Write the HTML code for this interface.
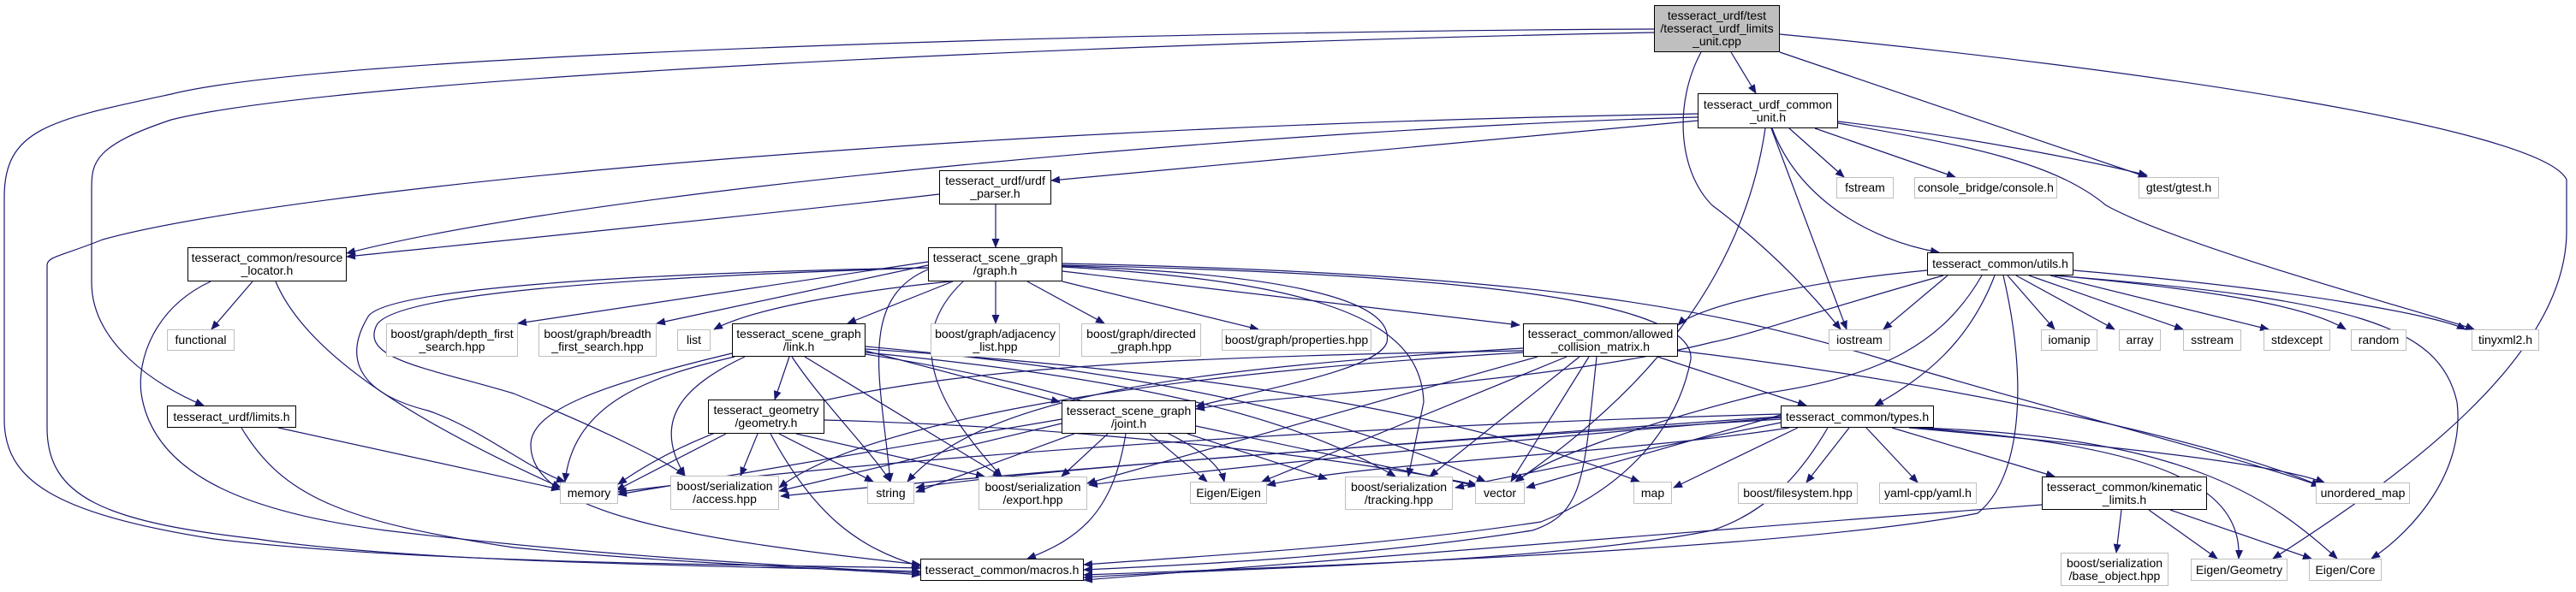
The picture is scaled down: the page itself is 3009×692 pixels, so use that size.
<!DOCTYPE html>
<html><head><meta charset="utf-8"><style>
html,body{margin:0;padding:0;background:#fff;}
#c{position:relative;width:3009px;height:692px;overflow:hidden;background:#fff;}
.n{position:absolute;box-sizing:border-box;display:flex;align-items:center;justify-content:center;text-align:center;font-family:"Liberation Sans",sans-serif;font-size:14px;line-height:15px;color:#000;background:#fff;border:1px solid #bfbfbf;white-space:nowrap;}
.b{border:1.5px solid #000;}
.g{background:#bfbfbf;border:1.5px solid #000;}
svg{position:absolute;left:0;top:0;}
path.e{fill:none;stroke:#191970;stroke-width:1.2;marker-end:url(#a);}
</style></head><body><div id="c">
<svg width="3009" height="692" viewBox="0 0 3009 692">
<defs><marker id="a" markerWidth="11" markerHeight="9" refX="10" refY="4.5" orient="auto" markerUnits="userSpaceOnUse"><path d="M0,0L11,4.5L0,9z" fill="#191970"/></marker></defs>
<!-- cpp -->
<path class="e" d="M1932,34 C1400,36 400,60 200,110 C60,140 5,150 5,230 L5,490 C5,560 60,600 250,630 C500,660 900,660 1075,664"/>
<path class="e" d="M1932,38 C1300,50 400,90 200,140 C110,170 107,190 107,220 L107,330 C107,400 180,450 238,474"/>
<path class="e" d="M1987,61 C1955,120 1960,200 2000,240 C2080,300 2130,360 2150,385"/>
<path class="e" d="M2022,61 L2051,109"/>
<path class="e" d="M2079,61 L2508,207"/>
<path class="e" d="M2079,40 C2500,80 2970,150 2998,210 L2998,270 C2998,420 2800,560 2655,653"/>
<!-- urdf_common -->
<path class="e" d="M2090,150 L2154,207"/>
<path class="e" d="M2120,150 L2284,207"/>
<path class="e" d="M2147,142 C2300,160 2450,190 2508,205"/>
<path class="e" d="M2147,144 C2300,170 2400,190 2460,240 C2550,290 2850,370 2890,385"/>
<path class="e" d="M2070,150 C2100,230 2180,280 2265,295"/>
<path class="e" d="M2069,150 L2157,385"/>
<path class="e" d="M2062,150 C2040,300 1950,440 1770,563"/>
<path class="e" d="M1983,137 C1500,150 700,220 405,296"/>
<path class="e" d="M1983,141 L1228,211"/>
<path class="e" d="M1983,133 C1000,150 300,230 120,280 C70,300 55,300 55,310 L55,500 C55,580 120,610 300,630 C500,660 900,662 1075,668"/>
<!-- urdf_parser -->
<path class="e" d="M1163,239 L1163,289"/>
<path class="e" d="M1097,227 C900,250 600,280 405,300"/>
<!-- resource_locator -->
<path class="e" d="M295,329 L247,385"/>
<path class="e" d="M322,329 C360,420 500,500 655,570"/>
<path class="e" d="M246,329 C180,360 160,420 165,460 C180,560 300,600 450,620 C700,650 900,660 1075,670"/>
<!-- limits -->
<path class="e" d="M325,500 L654,572"/>
<path class="e" d="M282,500 C330,580 400,610 600,640 C800,660 1000,665 1075,672"/>
<!-- graph -->
<path class="e" d="M1084,306 L605,378"/>
<path class="e" d="M1084,310 L767,378"/>
<path class="e" d="M1110,329 C1000,340 880,360 834,385"/>
<path class="e" d="M1113,329 L990,378"/>
<path class="e" d="M1163,329 L1163,378"/>
<path class="e" d="M1200,329 L1290,378"/>
<path class="e" d="M1241,329 L1470,385"/>
<path class="e" d="M1241,317 L1775,380"/>
<path class="e" d="M1241,311 C1500,320 1630,350 1620,400 C1610,430 1500,450 1397,475"/>
<path class="e" d="M1241,312 C1560,330 1660,380 1663,470 L1645,557"/>
<path class="e" d="M1125,329 C1050,400 1100,480 1170,557"/>
<path class="e" d="M1084,313 C700,320 450,340 430,370 C400,420 420,460 500,480 C560,500 620,550 660,563"/>
<path class="e" d="M1084,313 C700,325 460,345 440,380 C420,420 500,430 600,460 C700,500 780,540 800,556"/>
<path class="e" d="M1084,315 C1000,350 1030,450 1040,563"/>
<path class="e" d="M1241,310 C1700,320 1980,350 1975,420 C1960,500 1900,570 1800,610 C1600,640 1400,650 1266,660"/>
<path class="e" d="M1241,308 C1800,320 2000,360 2200,420 C2400,480 2600,530 2710,568"/>
<!-- link -->
<path class="e" d="M922,417 L905,467"/>
<path class="e" d="M858,417 C760,440 670,470 660,563"/>
<path class="e" d="M870,417 C800,450 760,490 800,556"/>
<path class="e" d="M925,417 C960,470 1020,530 1040,563"/>
<path class="e" d="M940,417 L1170,557"/>
<path class="e" d="M1011,410 L1238,470"/>
<path class="e" d="M1011,412 C1300,440 1500,480 1630,557"/>
<path class="e" d="M1011,405 C1400,440 1600,500 1735,563"/>
<path class="e" d="M1011,408 C1500,440 1750,500 1915,563"/>
<path class="e" d="M1011,414 C1300,460 1420,520 1430,563"/>
<path class="e" d="M855,413 C700,450 620,480 620,520 C620,600 800,630 1075,660"/>
<!-- geometry -->
<path class="e" d="M848,507 L720,573"/>
<path class="e" d="M885,507 L865,556"/>
<path class="e" d="M910,507 L1020,563"/>
<path class="e" d="M930,507 L1150,557"/>
<path class="e" d="M963,491 C1300,500 1600,540 1725,567"/>
<path class="e" d="M900,507 C950,600 1000,640 1075,662"/>
<!-- joint -->
<path class="e" d="M1240,490 L722,578"/>
<path class="e" d="M1240,495 L910,574"/>
<path class="e" d="M1255,507 L1070,575"/>
<path class="e" d="M1294,507 L1240,557"/>
<path class="e" d="M1343,507 L1410,563"/>
<path class="e" d="M1387,507 L1550,560"/>
<path class="e" d="M1397,498 L1725,568"/>
<path class="e" d="M1315,507 C1300,600 1260,630 1200,653"/>
<!-- allowed -->
<path class="e" d="M1779,407 C1400,430 1150,460 1060,563"/>
<path class="e" d="M1796,417 L1270,565"/>
<path class="e" d="M1830,417 L1474,563"/>
<path class="e" d="M1845,417 L1670,557"/>
<path class="e" d="M1856,417 L1765,563"/>
<path class="e" d="M1865,417 C1850,560 1850,600 1790,620 C1600,650 1400,660 1266,666"/>
<path class="e" d="M1936,417 L2110,474"/>
<path class="e" d="M1779,410 C1200,420 900,440 722,566"/>
<path class="e" d="M1960,410 C2300,450 2600,520 2710,568"/>
<path class="e" d="M1779,412 C1300,440 1000,500 910,570"/>
<!-- utils -->
<path class="e" d="M2275,322 L2200,385"/>
<path class="e" d="M2345,322 L2400,385"/>
<path class="e" d="M2355,322 L2470,385"/>
<path class="e" d="M2370,322 L2550,385"/>
<path class="e" d="M2395,322 L2650,385"/>
<path class="e" d="M2400,322 C2600,340 2700,360 2740,385"/>
<path class="e" d="M2422,316 C2700,340 2850,370 2880,385"/>
<path class="e" d="M2400,322 C2750,350 2850,380 2870,470 C2880,550 2820,620 2770,653"/>
<path class="e" d="M2330,322 C2300,400 2250,440 2190,474"/>
<path class="e" d="M2315,322 C2270,400 2200,440 2060,460 C1900,500 1800,540 1770,563"/>
<path class="e" d="M2251,316 C2100,330 1980,360 1960,380"/>
<path class="e" d="M2270,322 C2100,370 2050,390 2000,400 C1800,450 1500,460 1397,478"/>
<path class="e" d="M2340,322 C2370,450 2360,560 2310,600 C2100,640 1600,660 1266,672"/>
<!-- types -->
<path class="e" d="M2160,500 L2110,564"/>
<path class="e" d="M2180,500 L2240,564"/>
<path class="e" d="M2210,500 L2400,557"/>
<path class="e" d="M2230,500 C2450,520 2650,540 2715,564"/>
<path class="e" d="M2240,500 C2500,520 2620,560 2615,653"/>
<path class="e" d="M2240,500 C2550,510 2650,580 2730,653"/>
<path class="e" d="M2080,485 L1783,570"/>
<path class="e" d="M2100,500 L1955,570"/>
<path class="e" d="M2080,490 C1600,520 1200,550 1070,570"/>
<path class="e" d="M2080,488 C1700,520 1400,550 1272,567"/>
<path class="e" d="M2080,494 L1700,570"/>
<path class="e" d="M2080,484 C1500,500 1000,540 722,575"/>
<path class="e" d="M2080,487 C1600,520 1100,560 912,580"/>
<path class="e" d="M2090,500 C1900,530 1600,540 1480,567"/>
<path class="e" d="M2135,500 C2100,560 2060,600 2000,620 C1800,660 1400,665 1266,675"/>
<!-- kinematic -->
<path class="e" d="M2478,596 L2472,646"/>
<path class="e" d="M2510,596 L2590,653"/>
<path class="e" d="M2535,596 L2700,653"/>
<path class="e" d="M2385,590 C2000,620 1600,650 1266,678"/>
</svg>
<div class="n g" style="left:1932px;top:6px;width:147px;height:55px">tesseract_urdf/test<br>/tesseract_urdf_limits<br>_unit.cpp</div>
<div class="n b" style="left:1983px;top:109px;width:164px;height:41px">tesseract_urdf_common<br>_unit.h</div>
<div class="n b" style="left:1097px;top:199px;width:131px;height:40px">tesseract_urdf/urdf<br>_parser.h</div>
<div class="n b" style="left:219px;top:289px;width:186px;height:40px">tesseract_common/resource<br>_locator.h</div>
<div class="n b" style="left:1084px;top:289px;width:157px;height:40px">tesseract_scene_graph<br>/graph.h</div>
<div class="n" style="left:195px;top:385px;width:79px;height:25px">functional</div>
<div class="n" style="left:451px;top:378px;width:154px;height:39px">boost/graph/depth_first<br>_search.hpp</div>
<div class="n" style="left:629px;top:378px;width:138px;height:39px">boost/graph/breadth<br>_first_search.hpp</div>
<div class="n" style="left:791px;top:385px;width:39px;height:25px">list</div>
<div class="n b" style="left:855px;top:378px;width:156px;height:39px">tesseract_scene_graph<br>/link.h</div>
<div class="n" style="left:1087px;top:378px;width:151px;height:39px">boost/graph/adjacency<br>_list.hpp</div>
<div class="n" style="left:1263px;top:378px;width:140px;height:39px">boost/graph/directed<br>_graph.hpp</div>
<div class="n" style="left:1427px;top:385px;width:175px;height:25px">boost/graph/properties.hpp</div>
<div class="n b" style="left:1779px;top:378px;width:181px;height:39px">tesseract_common/allowed<br>_collision_matrix.h</div>
<div class="n" style="left:2145px;top:207px;width:67px;height:25px">fstream</div>
<div class="n" style="left:2236px;top:207px;width:167px;height:25px">console_bridge/console.h</div>
<div class="n" style="left:2498px;top:207px;width:94px;height:25px">gtest/gtest.h</div>
<div class="n b" style="left:2251px;top:295px;width:171px;height:27px">tesseract_common/utils.h</div>
<div class="n" style="left:2136px;top:385px;width:72px;height:25px">iostream</div>
<div class="n" style="left:2384px;top:385px;width:66px;height:25px">iomanip</div>
<div class="n" style="left:2475px;top:385px;width:49px;height:25px">array</div>
<div class="n" style="left:2550px;top:385px;width:68px;height:25px">sstream</div>
<div class="n" style="left:2644px;top:385px;width:78px;height:25px">stdexcept</div>
<div class="n" style="left:2746px;top:385px;width:65px;height:25px">random</div>
<div class="n" style="left:2887px;top:385px;width:79px;height:25px">tinyxml2.h</div>
<div class="n b" style="left:195px;top:474px;width:151px;height:26px">tesseract_urdf/limits.h</div>
<div class="n b" style="left:827px;top:467px;width:136px;height:40px">tesseract_geometry<br>/geometry.h</div>
<div class="n b" style="left:1240px;top:468px;width:157px;height:39px">tesseract_scene_graph<br>/joint.h</div>
<div class="n b" style="left:2080px;top:474px;width:179px;height:26px">tesseract_common/types.h</div>
<div class="n" style="left:654px;top:564px;width:68px;height:25px">memory</div>
<div class="n" style="left:783px;top:556px;width:127px;height:40px">boost/serialization<br>/access.hpp</div>
<div class="n" style="left:1013px;top:563px;width:55px;height:26px">string</div>
<div class="n" style="left:1143px;top:557px;width:127px;height:39px">boost/serialization<br>/export.hpp</div>
<div class="n" style="left:1390px;top:563px;width:90px;height:26px">Eigen/Eigen</div>
<div class="n" style="left:1571px;top:557px;width:126px;height:39px">boost/serialization<br>/tracking.hpp</div>
<div class="n" style="left:1723px;top:563px;width:58px;height:26px">vector</div>
<div class="n" style="left:1908px;top:563px;width:45px;height:26px">map</div>
<div class="n" style="left:2030px;top:564px;width:140px;height:25px">boost/filesystem.hpp</div>
<div class="n" style="left:2195px;top:564px;width:114px;height:25px">yaml-cpp/yaml.h</div>
<div class="n b" style="left:2385px;top:557px;width:193px;height:39px">tesseract_common/kinematic<br>_limits.h</div>
<div class="n" style="left:2705px;top:564px;width:110px;height:25px">unordered_map</div>
<div class="n b" style="left:1075px;top:653px;width:191px;height:26px">tesseract_common/macros.h</div>
<div class="n" style="left:2407px;top:646px;width:126px;height:39px">boost/serialization<br>/base_object.hpp</div>
<div class="n" style="left:2559px;top:653px;width:113px;height:26px">Eigen/Geometry</div>
<div class="n" style="left:2697px;top:653px;width:85px;height:26px">Eigen/Core</div>
</div></body></html>
